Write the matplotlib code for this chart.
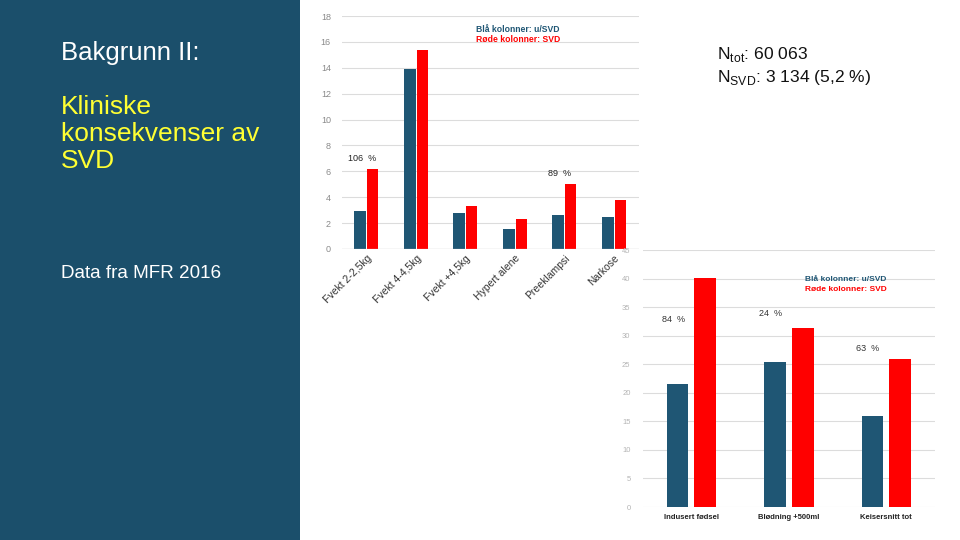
import numpy as np
import matplotlib
matplotlib.use('Agg')
import matplotlib.pyplot as plt
from matplotlib.patches import Rectangle

plt.rcParams['font.family'] = ['Liberation Sans', 'DejaVu Sans']
plt.rcParams['mathtext.fontset'] = 'custom'
plt.rcParams['mathtext.rm'] = 'Liberation Sans'

BLUE = '#1f5674'
RED = '#ff0000'
PANEL = '#1b4f6b'

# chart 1: per category, uten / med SVD
CAT_1 = ['Fvekt 2-2,5kg', 'Fvekt 4-4,5kg', 'Fvekt +4,5kg', 'Hypert alene',
         'Preeklampsi', 'Narkose']
NO_SVD_1 = [2.95, 13.9, 2.8, 1.55, 2.65, 2.47]
SVD_1 = [6.2, 15.4, 3.33, 2.32, 5.03, 3.8]
NOTE_IDX_1 = [0, 4]
NOTE_TXT_1 = ['106  %', '89  %']
NOTE_Y_1 = [7.0, 5.8]

# chart 2
CAT_2 = ['Indusert fødsel', 'Blødning +500ml', 'Keisersnitt tot']
NO_SVD_2 = [21.6, 25.4, 15.9]
SVD_2 = [40.1, 31.3, 25.9]
NOTE_TXT_2 = ['84  %', '24  %', '63  %']
NOTE_Y_2 = [32.9, 33.8, 27.7]

SUBTITLE = ['Kliniske', 'konsekvenser av', 'SVD']

fig = plt.figure(figsize=(9.6, 5.4), dpi=100)
fig.patch.set_facecolor('white')

# left panel
fig.patches.append(Rectangle((0, 0), 300 / 960, 1, transform=fig.transFigure,
                             facecolor=PANEL, edgecolor='none', zorder=0))
fig.text(61 / 960, 1 - 53 / 540, 'Bakgrunn II:', color='white', fontsize=18.5,
         va='center', ha='left')
for k, line in enumerate(SUBTITLE):
    fig.text(61 / 960, 1 - (107 + 27 * k) / 540, line, color='#ffff33',
             fontsize=19, va='center', ha='left')
fig.text(61 / 960, 1 - 273 / 540, 'Data fra MFR 2016', color='white',
         fontsize=13.6, va='center', ha='left')

# N text
fig.text(717 / 960, 1 - 54 / 540, r'N$_{\mathrm{tot}}$: 60 063', fontsize=12.6,
         va='center', ha='left', color='#111111')
fig.text(717 / 960, 1 - 78 / 540, r'N$_{\mathrm{SVD}}$: 3 134 (5,2 %)',
         fontsize=12.6, va='center', ha='left', color='#111111')


def style_axes(ax, tick_color):
    for side in ['top', 'right', 'left', 'bottom']:
        ax.spines[side].set_visible(False)
    ax.grid(True, axis='y', color='#dcdcdc', linewidth=0.8)
    ax.set_axisbelow(True)
    ax.tick_params(length=0)
    ax.tick_params(axis='y', colors=tick_color, labelsize=6.5, pad=8)


# chart 1
ax1 = fig.add_axes([342 / 960, 1 - 249 / 540, 297 / 960, 233 / 540])
x1 = np.arange(len(CAT_1))
ax1.bar(x1 - 0.135, NO_SVD_1, 0.245, color=BLUE)
ax1.bar(x1 + 0.12, SVD_1, 0.225, color=RED)
ax1.set_xlim(-0.5, len(CAT_1) - 0.5)
ax1.set_ylim(0, 18)
ax1.set_yticks(np.arange(0, 19, 2))
style_axes(ax1, '#8a8a8a')
ax1.axhline(0, color='#c8c8c8', linewidth=0.9)
ax1.set_xticks(x1)
ax1.set_xticklabels(CAT_1, rotation=45, ha='right', rotation_mode='anchor',
                    fontsize=7.5, color='#333333')
ax1.tick_params(axis='x', pad=3)
for i, txt, y in zip(NOTE_IDX_1, NOTE_TXT_1, NOTE_Y_1):
    ax1.text(i - 0.1, y, txt, ha='center', va='center', fontsize=6.5,
             color='#222222')
ax1.text(0.451, 0.944, 'Blå kolonner: u/SVD', transform=ax1.transAxes,
         color=BLUE, fontsize=6.2, fontweight='bold', va='center')
ax1.text(0.451, 0.897, 'Røde kolonner: SVD', transform=ax1.transAxes,
         color=RED, fontsize=6.2, fontweight='bold', va='center')

# chart 2
ax2 = fig.add_axes([643 / 960, 1 - 507 / 540, 292 / 960, 257 / 540])
x2 = np.arange(len(CAT_2))
ax2.bar(x2 - 0.145, NO_SVD_2, 0.22, color=BLUE)
ax2.bar(x2 + 0.14, SVD_2, 0.225, color=RED)
ax2.set_xlim(-0.5, len(CAT_2) - 0.5)
ax2.set_ylim(0, 45)
ax2.set_yticks(np.arange(0, 46, 5))
style_axes(ax2, '#b4b4b4')
ax2.tick_params(axis='y', labelsize=5.5, pad=9)
ax2.set_xticks(x2)
ax2.set_xticklabels(CAT_2, fontsize=5.5, fontweight='bold', color='#222222')
ax2.tick_params(axis='x', pad=5)
for i, (txt, y) in enumerate(zip(NOTE_TXT_2, NOTE_Y_2)):
    ax2.text(i - 0.19, y, txt, ha='center', va='center', fontsize=6.5,
             color='#333333')
ax2.text(0.555, 0.887, 'Blå kolonner: u/SVD', transform=ax2.transAxes,
         color=BLUE, fontsize=6, fontweight='bold', va='center')
ax2.text(0.555, 0.848, 'Røde kolonner: SVD', transform=ax2.transAxes,
         color=RED, fontsize=6, fontweight='bold', va='center')

fig.savefig('out.png', dpi=100)
